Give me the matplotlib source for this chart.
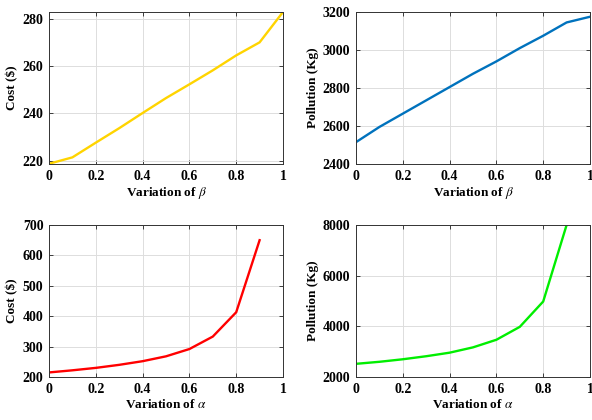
import matplotlib
matplotlib.use("Agg")
import matplotlib.pyplot as plt

x_beta = [0, 0.1, 0.2, 0.3, 0.4, 0.5, 0.6, 0.7, 0.8, 0.9, 1.0]
cost_beta = [218.8, 221.5, 227.7, 233.8, 240.2, 246.5, 252.3, 258.2, 264.5, 270.0, 282.8]
poll_beta = [2515, 2595, 2665, 2735, 2805, 2875, 2940, 3010, 3075, 3145, 3175]

x_alpha = [0, 0.1, 0.2, 0.3, 0.4, 0.5, 0.6, 0.7, 0.8, 0.9]
cost_alpha = [215, 222, 230, 240, 252, 268, 292, 333, 413, 650]
poll_alpha = [2520, 2600, 2700, 2820, 2960, 3170, 3470, 3980, 4980, 8000]

xticks = [0, 0.2, 0.4, 0.6, 0.8, 1]
xticklabels = ["0", "0.2", "0.4", "0.6", "0.8", "1"]

plt.rcParams['font.family'] = ['Liberation Serif', 'DejaVu Serif']
plt.rcParams['mathtext.fontset'] = 'stix'

W, H = 592, 420
fig = plt.figure(figsize=(W / 100, H / 100), dpi=100)

def add_ax(l, r, t, b):
    return fig.add_axes([l / W, 1 - b / H, (r - l) / W, (b - t) / H])

panels = [
    (add_ax(49, 283, 12, 164), x_beta, cost_beta, '#FFD400', 'Cost ($)', r'Variation of $\beta$',
     (218.7, 282.8), [220, 240, 260, 280]),
    (add_ax(356, 590, 12, 164), x_beta, poll_beta, '#0072BD', 'Pollution (Kg)', r'Variation of $\beta$',
     (2400, 3200), [2400, 2600, 2800, 3000, 3200]),
    (add_ax(49, 283, 225, 377), x_alpha, cost_alpha, '#FF0000', 'Cost ($)', r'Variation of $\alpha$',
     (200, 700), [200, 300, 400, 500, 600, 700]),
    (add_ax(356, 590, 225, 377), x_alpha, poll_alpha, '#00EE00', 'Pollution (Kg)', r'Variation of $\alpha$',
     (2000, 8000), [2000, 4000, 6000, 8000]),
]

for ax, xs, ys, col, ylab, xlab, ylim, yt in panels:
    ax.plot(xs, ys, color=col, lw=1.7, solid_joinstyle='miter')
    ax.set_xlim(0, 1)
    ax.set_ylim(*ylim)
    ax.set_xticks(xticks)
    ax.set_xticklabels(xticklabels)
    ax.set_yticks(yt)
    ax.grid(True, color='#DDDDDD', lw=0.7)
    ax.set_axisbelow(True)
    for s in ax.spines.values():
        s.set_color('#333333')
        s.set_linewidth(0.7)
    ax.tick_params(direction='in', length=3, width=0.6, labelsize=10, pad=4,
                   top=True, right=True, colors='#222222')
    for lbl in ax.get_xticklabels() + ax.get_yticklabels():
        lbl.set_fontweight('bold')
        lbl.set_color('black')
    ax.set_xlabel(xlab, fontsize=9.5, fontweight='bold', labelpad=2)
    ax.set_ylabel(ylab, fontsize=9.5, fontweight='bold', labelpad=3)

fig.savefig('out.png', dpi=100)
